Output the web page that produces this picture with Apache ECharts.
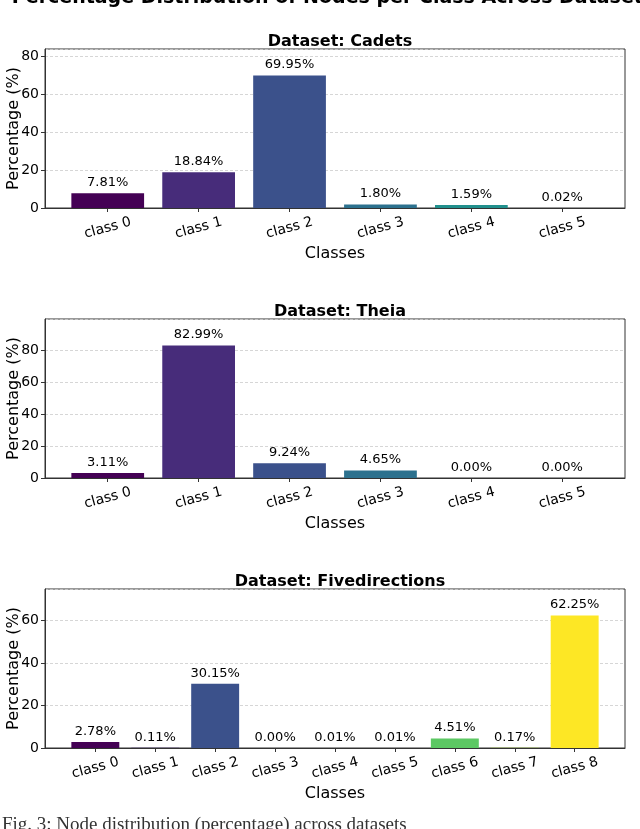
<!DOCTYPE html>
<html><head><meta charset="utf-8">
<script src="https://cdn.jsdelivr.net/npm/echarts@6/dist/echarts.min.js"></script>
<style>html,body{margin:0;padding:0;background:#fff;}#c{width:640px;height:829px;}</style>
</head><body><div id="c"></div>
<script>
const mainTitle = "Percentage Distribution of Nodes per Class Across Datasets";
const caption = "Fig. 3: Node distribution (percentage) across datasets";
const datasetNames = ["Cadets", "Theia", "Fivedirections"];
const cadetsClasses = ["class 0","class 1","class 2","class 3","class 4","class 5"];
const cadetsValues = [7.81, 18.84, 69.95, 1.80, 1.59, 0.02];
const theiaClasses = ["class 0","class 1","class 2","class 3","class 4","class 5"];
const theiaValues = [3.11, 82.99, 9.24, 4.65, 0.00, 0.00];
const fiveClasses = ["class 0","class 1","class 2","class 3","class 4","class 5","class 6","class 7","class 8"];
const fiveValues = [2.78, 0.11, 30.15, 0.00, 0.01, 0.01, 4.51, 0.17, 62.25];
const palette = ["#440154","#472c7a","#3b518b","#2c718e","#21908d","#27ad81","#5cc863","#aadc32","#fde725"];

const F = "DejaVu Sans";
const panels = [
  {name: datasetNames[0], cats: cadetsClasses, vals: cadetsValues, top: 49},
  {name: datasetNames[1], cats: theiaClasses, vals: theiaValues, top: 319},
  {name: datasetNames[2], cats: fiveClasses, vals: fiveValues, top: 589}
];
const H = 159, L = 45, R = 15, W = 640 - L - R;
const BAR = 0.8;
// matplotlib-style 5% margins around the bar extent
function xRange(n) {
  const lo = -BAR / 2, hi = n - 1 + BAR / 2, m = 0.05 * (hi - lo);
  return [lo - m, hi + m];
}
const option = {
  animation: false,
  backgroundColor: '#fff',
  title: panels.map(p => ({
    text: 'Dataset: ' + p.name, left: 335, top: p.top - 20, textAlign: 'center',
    textStyle: {fontFamily: F, fontWeight: 'bold', fontSize: 16, color: '#000'}
  })),
  graphic: [
    {type: 'text', x: 333, y: -11, style: {text: mainTitle, font: 'bold 19px "DejaVu Sans"', fill: '#000', align: 'center'}},
    {type: 'text', left: 2, top: 816, style: {text: caption, font: '19px "Liberation Serif"', fill: '#333'}}
  ],
  grid: panels.map(p => ({left: L, right: R, top: p.top, height: H, show: true, borderColor: '#333', borderWidth: 1,
    containLabel: false, outerBoundsMode: 'none'})),
  xAxis: panels.map((p, i) => {
    const r = xRange(p.cats.length);
    const idx = p.cats.map((c, j) => j);
    return {
      type: 'value', gridIndex: i, min: r[0], max: r[1],
      name: 'Classes', nameLocation: 'middle', nameGap: 38, nameMoveOverlap: false,
      nameTextStyle: {fontFamily: F, fontSize: 16, color: '#000'},
      axisLine: {show: true, onZero: false, lineStyle: {color: '#333'}},
      axisTick: {show: true, length: 4, lineStyle: {color: '#333'}, customValues: idx},
      axisLabel: {rotate: 15, fontFamily: F, fontSize: 14, color: '#000', margin: 20, align: 'center', verticalAlign: 'middle',
        customValues: idx, formatter: v => p.cats[Math.round(v)]},
      splitLine: {show: false}
    };
  }),
  yAxis: panels.map((p, i) => ({
    type: 'value', gridIndex: i, min: 0, max: Math.max(...p.vals) * 1.2, interval: 20,
    name: 'Percentage (%)', nameLocation: 'middle', nameGap: 23, nameMoveOverlap: false,
    nameTextStyle: {fontFamily: F, fontSize: 16, color: '#000'},
    axisLine: {show: true, onZero: false, lineStyle: {color: '#333'}},
    axisTick: {show: true, length: 4, lineStyle: {color: '#333'}},
    axisLabel: {fontFamily: F, fontSize: 14, color: '#000', margin: 6, showMaxLabel: false,
      formatter: v => (Math.abs(v % 20) < 1e-9 ? String(v) : '')},
    splitLine: {show: true, lineStyle: {color: '#ccc', type: [3, 2], width: 0.8}}
  })),
  series: panels.map((p, i) => {
    const r = xRange(p.cats.length);
    return {
      type: 'bar', xAxisIndex: i, yAxisIndex: i,
      barWidth: BAR * W / (r[1] - r[0]),
      data: p.vals.map((v, j) => ({value: [j, v], itemStyle: {color: palette[j]}})),
      label: {show: true, position: 'top', distance: 4, fontFamily: F, fontSize: 13, color: '#000',
        formatter: d => d.value[1].toFixed(2) + '%'}
    };
  })
};
echarts.init(document.getElementById('c'), null, {renderer: 'canvas'}).setOption(option);
</script></body></html>
